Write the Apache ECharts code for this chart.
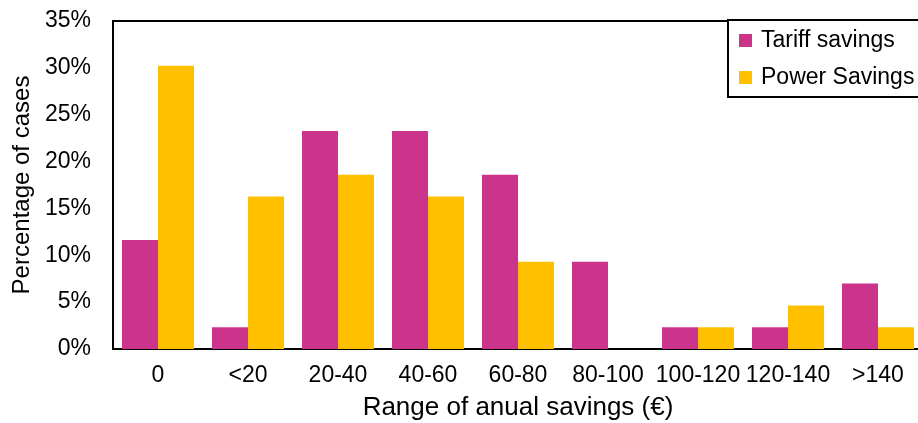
<!DOCTYPE html>
<html><head><meta charset="utf-8">
<script src="https://cdn.jsdelivr.net/npm/echarts@6/dist/echarts.min.js"></script>
<style>html,body{margin:0;padding:0;background:#fff}#c{width:918px;height:423px}</style>
</head><body><div id="c"></div>
<script>
const categories = ['0','<20','20-40','40-60','60-80','80-100','100-120','120-140','>140'];
const tariffSavings = [11.63, 2.33, 23.26, 23.26, 18.60, 9.30, 2.33, 2.33, 6.98];
const powerSavings = [30.23, 16.28, 18.60, 16.28, 9.30, 0, 2.33, 4.65, 2.33];
const yTicks = {min: 0, max: 35, interval: 5};
const F = 'Liberation Sans, Arial, sans-serif';
const chart = echarts.init(document.getElementById('c'));
chart.setOption({
  animation: false,
  backgroundColor: '#fff',
  grid: {left: 113, top: 21, right: -5, bottom: 74, containLabel: false, outerBoundsMode: 'none',
         show: true, borderColor: '#000', borderWidth: 2, backgroundColor: 'transparent'},
  legend: {
    left: 728, top: 20, orient: 'vertical', backgroundColor: '#fff', borderColor: '#000', borderWidth: 2,
    padding: [9, 20, 8, 11], itemGap: 14, itemWidth: 13, itemHeight: 13, icon: 'rect',
    textStyle: {fontFamily: F, fontSize: 23, color: '#000', padding: [0,0,0,4]},
    data: ['Tariff savings', 'Power Savings']
  },
  xAxis: {
    type: 'category', data: categories,
    name: 'Range of anual savings (€)', nameLocation: 'middle', nameGap: 46,
    nameTextStyle: {fontFamily: F, fontSize: 26, color: '#000'},
    axisLine: {lineStyle: {color: '#000', width: 2}}, axisTick: {show: false},
    axisLabel: {fontFamily: F, fontSize: 23, color: '#000', margin: 15, interval: 0}
  },
  yAxis: {
    type: 'value', min: yTicks.min, max: yTicks.max, interval: yTicks.interval,
    name: 'Percentage of cases', nameLocation: 'middle', nameGap: 77,
    nameTextStyle: {fontFamily: F, fontSize: 24, color: '#000'},
    splitLine: {show: false}, axisLine: {show: true, lineStyle: {color: '#000', width: 2}}, axisTick: {show: false},
    axisLabel: {fontFamily: F, fontSize: 23, color: '#000', margin: 22, formatter: '{value}%'}
  },
  series: [
    {name: 'Tariff savings', type: 'bar', data: tariffSavings, barGap: '0%', barCategoryGap: '20%', itemStyle: {color: '#CC338B'}},
    {name: 'Power Savings', type: 'bar', data: powerSavings, barGap: '0%', barCategoryGap: '20%', itemStyle: {color: '#FFC000'}}
  ]
});
</script></body></html>
